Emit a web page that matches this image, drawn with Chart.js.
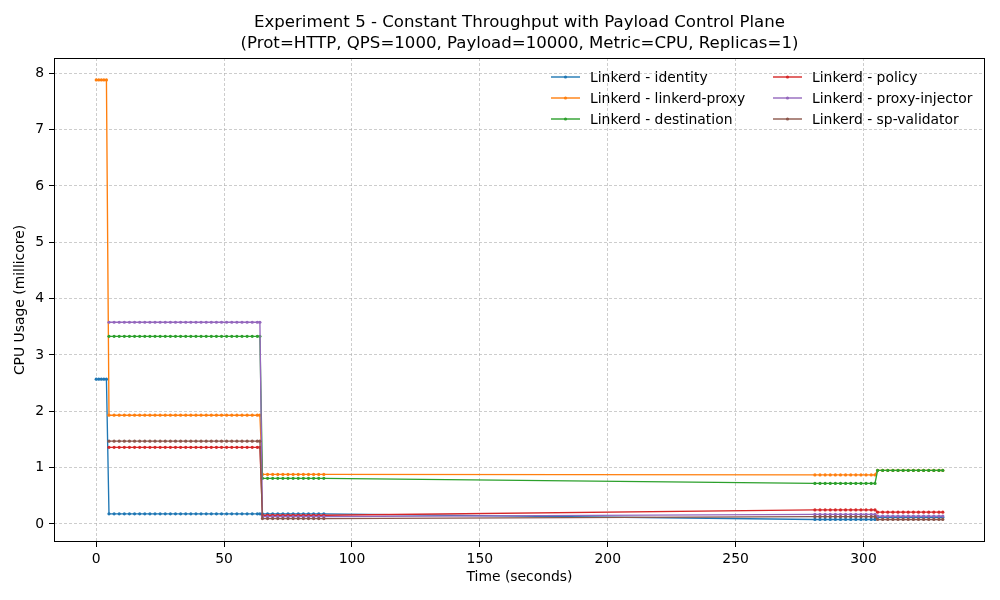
<!DOCTYPE html>
<html>
<head>
<meta charset="utf-8">
<script src="https://cdn.jsdelivr.net/npm/chart.js@4/dist/chart.umd.min.js"></script>
<style>
  html, body { margin: 0; padding: 0; background: #fff; }
  #wrap { width: 1000px; height: 600px; }
</style>
</head>
<body>
<div id="wrap"><canvas id="cpuChart" width="1000" height="600"></canvas></div>
<script>
//Chart text
const titleLines = [
    "Experiment 5 - Constant Throughput with Payload Control Plane",
    "(Prot=HTTP, QPS=1000, Payload=10000, Metric=CPU, Replicas=1)"
];
const xTitle = "Time (seconds)";
const yTitle = "CPU Usage (millicore)";

//Tick labels
const xTicks = [0, 50, 100, 150, 200, 250, 300];
const yTicks = [0, 1, 2, 3, 4, 5, 6, 7, 8];

//Sample times (seconds)
const times = [
    0, 1, 2, 3, 4,
    5, 7, 9, 11, 13, 15, 17, 19, 21, 23,
    25, 27, 29, 31, 33, 35, 37, 39, 41, 43,
    45, 47, 49, 51, 53, 55, 57, 59, 61, 63, 64,
    65, 67, 69, 71, 73, 75, 77, 79, 81, 83, 85, 87, 89,
    281, 283, 285, 287, 289, 291, 293, 295, 297, 299, 301, 303, 304.5,
    305.5, 307.5, 309.5, 311.5, 313.5, 315.5, 317.5, 319.5, 321.5, 323.5, 325.5, 327.5, 329.5, 331
];

//Series names
const seriesNames = [
    "Linkerd - identity",
    "Linkerd - linkerd-proxy",
    "Linkerd - destination",
    "Linkerd - policy",
    "Linkerd - proxy-injector",
    "Linkerd - sp-validator"
];

//CPU values per series (millicore), same length as times
const identity = [
    2.57, 2.57, 2.57, 2.57, 2.57,
    0.18, 0.18, 0.18, 0.18, 0.18, 0.18, 0.18, 0.18, 0.18, 0.18,
    0.18, 0.18, 0.18, 0.18, 0.18, 0.18, 0.18, 0.18, 0.18, 0.18,
    0.18, 0.18, 0.18, 0.18, 0.18, 0.18, 0.18, 0.18, 0.18, 0.18, 0.18,
    0.18, 0.18, 0.18, 0.18, 0.18, 0.18, 0.18, 0.18, 0.18, 0.18, 0.18, 0.18, 0.18,
    0.08, 0.08, 0.08, 0.08, 0.08, 0.08, 0.08, 0.08, 0.08, 0.08, 0.08, 0.08, 0.08,
    0.12, 0.12, 0.12, 0.12, 0.12, 0.12, 0.12, 0.12, 0.12, 0.12, 0.12, 0.12, 0.12, 0.12
];
const linkerdProxy = [
    7.88, 7.88, 7.88, 7.88, 7.88,
    1.93, 1.93, 1.93, 1.93, 1.93, 1.93, 1.93, 1.93, 1.93, 1.93,
    1.93, 1.93, 1.93, 1.93, 1.93, 1.93, 1.93, 1.93, 1.93, 1.93,
    1.93, 1.93, 1.93, 1.93, 1.93, 1.93, 1.93, 1.93, 1.93, 1.93, 1.93,
    0.88, 0.88, 0.88, 0.88, 0.88, 0.88, 0.88, 0.88, 0.88, 0.88, 0.88, 0.88, 0.88,
    0.87, 0.87, 0.87, 0.87, 0.87, 0.87, 0.87, 0.87, 0.87, 0.87, 0.87, 0.87, 0.87,
    0.95, 0.95, 0.95, 0.95, 0.95, 0.95, 0.95, 0.95, 0.95, 0.95, 0.95, 0.95, 0.95, 0.95
];
const destination = [
    null, null, null, null, null,
    3.33, 3.33, 3.33, 3.33, 3.33, 3.33, 3.33, 3.33, 3.33, 3.33,
    3.33, 3.33, 3.33, 3.33, 3.33, 3.33, 3.33, 3.33, 3.33, 3.33,
    3.33, 3.33, 3.33, 3.33, 3.33, 3.33, 3.33, 3.33, 3.33, 3.33, 3.33,
    0.81, 0.81, 0.81, 0.81, 0.81, 0.81, 0.81, 0.81, 0.81, 0.81, 0.81, 0.81, 0.81,
    0.72, 0.72, 0.72, 0.72, 0.72, 0.72, 0.72, 0.72, 0.72, 0.72, 0.72, 0.72, 0.72,
    0.95, 0.95, 0.95, 0.95, 0.95, 0.95, 0.95, 0.95, 0.95, 0.95, 0.95, 0.95, 0.95, 0.95
];
const policy = [
    null, null, null, null, null,
    1.36, 1.36, 1.36, 1.36, 1.36, 1.36, 1.36, 1.36, 1.36, 1.36,
    1.36, 1.36, 1.36, 1.36, 1.36, 1.36, 1.36, 1.36, 1.36, 1.36,
    1.36, 1.36, 1.36, 1.36, 1.36, 1.36, 1.36, 1.36, 1.36, 1.36, 1.36,
    0.155, 0.155, 0.155, 0.155, 0.155, 0.155, 0.155, 0.155, 0.155, 0.155, 0.155, 0.155, 0.155,
    0.25, 0.25, 0.25, 0.25, 0.25, 0.25, 0.25, 0.25, 0.25, 0.25, 0.25, 0.25, 0.25,
    0.21, 0.21, 0.21, 0.21, 0.21, 0.21, 0.21, 0.21, 0.21, 0.21, 0.21, 0.21, 0.21, 0.21
];
const proxyInjector = [
    null, null, null, null, null,
    3.58, 3.58, 3.58, 3.58, 3.58, 3.58, 3.58, 3.58, 3.58, 3.58,
    3.58, 3.58, 3.58, 3.58, 3.58, 3.58, 3.58, 3.58, 3.58, 3.58,
    3.58, 3.58, 3.58, 3.58, 3.58, 3.58, 3.58, 3.58, 3.58, 3.58, 3.58,
    0.13, 0.13, 0.13, 0.13, 0.13, 0.13, 0.13, 0.13, 0.13, 0.13, 0.13, 0.13, 0.13,
    0.17, 0.17, 0.17, 0.17, 0.17, 0.17, 0.17, 0.17, 0.17, 0.17, 0.17, 0.17, 0.17,
    0.14, 0.14, 0.14, 0.14, 0.14, 0.14, 0.14, 0.14, 0.14, 0.14, 0.14, 0.14, 0.14, 0.14
];
const spValidator = [
    null, null, null, null, null,
    1.47, 1.47, 1.47, 1.47, 1.47, 1.47, 1.47, 1.47, 1.47, 1.47,
    1.47, 1.47, 1.47, 1.47, 1.47, 1.47, 1.47, 1.47, 1.47, 1.47,
    1.47, 1.47, 1.47, 1.47, 1.47, 1.47, 1.47, 1.47, 1.47, 1.47, 1.47,
    0.095, 0.095, 0.095, 0.095, 0.095, 0.095, 0.095, 0.095, 0.095, 0.095, 0.095, 0.095, 0.095,
    0.13, 0.13, 0.13, 0.13, 0.13, 0.13, 0.13, 0.13, 0.13, 0.13, 0.13, 0.13, 0.13,
    0.08, 0.08, 0.08, 0.08, 0.08, 0.08, 0.08, 0.08, 0.08, 0.08, 0.08, 0.08, 0.08, 0.08
];

//Matplotlib default colors
const seriesColors = ["#1f77b4", "#ff7f0e", "#2ca02c", "#d62728", "#9467bd", "#8c564b"];
const seriesValues = [identity, linkerdProxy, destination, policy, proxyInjector, spValidator];

const FONT = "'DejaVu Sans', sans-serif";

//Title, frame and two-column legend drawn on the canvas
const decorPlugin = {
    id: "decor",
    afterDraw(chart) {
        const ctx = chart.ctx;
        const area = chart.chartArea;
        ctx.save();

        //Frame around plot area
        ctx.strokeStyle = "#000";
        ctx.lineWidth = 1;
        ctx.strokeRect(Math.round(area.left) + 0.5, Math.round(area.top) + 0.5,
            Math.round(area.right - area.left) - 1, Math.round(area.bottom - area.top) - 1);

        //Title
        ctx.fillStyle = "#000";
        ctx.font = "16.6px " + FONT;
        ctx.textAlign = "center";
        ctx.textBaseline = "middle";
        const cx = (area.left + area.right) / 2;
        ctx.fillText(titleLines[0], cx, 23);
        ctx.fillText(titleLines[1], cx, 44);

        //Legend, column by column
        ctx.font = "13.9px " + FONT;
        ctx.textAlign = "left";
        const colX = [551, 773];
        const rowY = [77, 98, 119];
        seriesNames.forEach((name, i) => {
            const x = colX[Math.floor(i / 3)];
            const y = rowY[i % 3];
            ctx.strokeStyle = seriesColors[i];
            ctx.lineWidth = 1.4;
            ctx.beginPath();
            ctx.moveTo(x, y);
            ctx.lineTo(x + 29, y);
            ctx.stroke();
            ctx.fillStyle = seriesColors[i];
            ctx.beginPath();
            ctx.arc(x + 14.5, y, 1.6, 0, Math.PI * 2);
            ctx.fill();
            ctx.fillStyle = "#000";
            ctx.fillText(name, x + 39, y + 1);
        });
        ctx.restore();
    }
};

const datasets = seriesNames.map((name, i) => ({
    label: name,
    data: seriesValues[i],
    borderColor: seriesColors[i],
    backgroundColor: seriesColors[i],
    pointBackgroundColor: seriesColors[i],
    borderWidth: 1.35,
    pointRadius: 1.6,
    pointBorderWidth: 0,
    pointHoverRadius: 0,
    tension: 0,
    fill: false,
    spanGaps: true,
    order: seriesNames.length - i //Later series drawn on top
}));

const gridOpts = {
    color: "rgba(176,176,176,0.9)",
    lineWidth: 0.7,
    tickLength: 5,
    tickColor: "#000",
    tickWidth: 1
};

const ctx = document.getElementById("cpuChart").getContext("2d");
const cpuChart = new Chart(ctx, {
    type: "line",
    data: { labels: times, datasets: datasets },
    plugins: [decorPlugin],
    options: {
        responsive: false,
        animation: false,
        devicePixelRatio: 1,
        layout: { padding: { top: 58, right: 15, left: 0, bottom: 0 } },
        plugins: {
            legend: { display: false },
            title: { display: false },
            tooltip: { enabled: false }
        },
        scales: {
            x: {
                type: "linear",
                min: -16.5,
                max: 347.5,
                afterBuildTicks: s => { s.ticks = xTicks.map(v => ({ value: v })); },
                afterFit: s => { s.height = 58; },
                grid: gridOpts,
                border: { display: false, dash: [3, 2] },
                ticks: {
                    color: "#000",
                    font: { family: FONT, size: 13.9 },
                    padding: 4,
                    maxRotation: 0,
                    autoSkip: false,
                    callback: v => String(v)
                },
                title: {
                    display: true,
                    text: xTitle,
                    color: "#000",
                    font: { family: FONT, size: 13.9 },
                    padding: { top: 0, bottom: 14 }
                }
            },
            y: {
                type: "linear",
                min: -0.32,
                max: 8.27,
                afterBuildTicks: s => { s.ticks = yTicks.map(v => ({ value: v })); },
                afterFit: s => { s.width = 54; },
                grid: gridOpts,
                border: { display: false, dash: [3, 2] },
                ticks: {
                    color: "#000",
                    font: { family: FONT, size: 13.9 },
                    padding: 5,
                    autoSkip: false,
                    callback: v => String(v)
                },
                title: {
                    display: true,
                    text: yTitle,
                    color: "#000",
                    font: { family: FONT, size: 13.9 },
                    padding: { top: 12, bottom: 0 }
                }
            }
        }
    }
});
</script>
</body>
</html>
